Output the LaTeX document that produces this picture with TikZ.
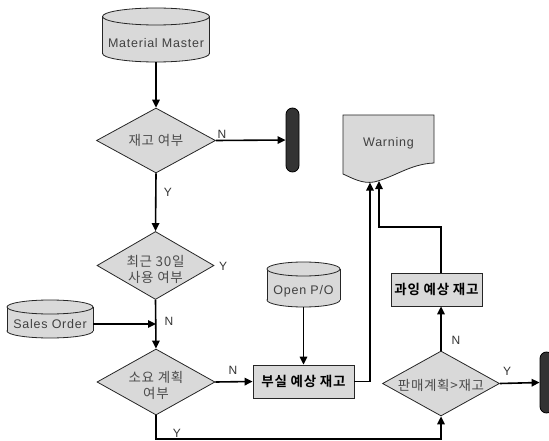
\documentclass[tikz,border=0pt]{standalone}
\usepackage{fontspec}
\setmainfont{Liberation Sans}[LetterSpace=6]
\newfontfamily\kr{Noto Sans CJK KR}[LetterSpace=5,BoldFont={Noto Sans CJK KR Bold}]
\usetikzlibrary{shapes.geometric,arrows.meta}

% database cylinder: #1 centre x, #2 top y, #3 bottom y, #4 half width, #5 end radius
\newcommand\dbcyl[5]{%
  \fill[shapefill] (#1,#3-#5) ellipse[x radius=#4,y radius=#5];
  \draw[shapeline] (#1,#3-#5) ellipse[x radius=#4,y radius=#5];
  \fill[shapefill] (#1-#4,#2+#5) rectangle (#1+#4,#3-#5);
  \draw[shapeline] (#1-#4,#2+#5) -- (#1-#4,#3-#5) (#1+#4,#2+#5) -- (#1+#4,#3-#5);
  \filldraw[shapefill,shapeline] (#1,#2+#5) ellipse[x radius=#4,y radius=#5];}

\begin{document}
\begin{tikzpicture}[x=1pt,y=-1pt,
  shapefill/.style={fill=black!15},
  shapeline/.style={draw=black!85,line width=0.8pt},
  conn/.style={line width=1.6pt,black},
  arr/.style={conn,-{Triangle[length=8pt,width=7.5pt]}},
  dbtext/.style={inner sep=0pt,font=\fontsize{12.5}{14}\selectfont,text=black!75},
  dia/.style={diamond,shapefill,shapeline,inner sep=0pt},
  diatext/.style={align=center,font=\kr\fontsize{13.5}{15.5}\selectfont,text=black!70},
  procbox/.style={rectangle,shapefill,shapeline,inner sep=0pt,
    font=\kr\bfseries\fontsize{13.5}{15}\selectfont},
  endcap/.style={rectangle,rounded corners=6.5pt,fill=black!80,draw=black,
    line width=0.8pt,inner sep=0pt,minimum width=13pt},
  yn/.style={inner sep=0pt,font=\fontsize{12}{14}\selectfont,text=black!80}]
\useasboundingbox (0,0) rectangle (549,441);

% data sources
\dbcyl{156}{8}{62}{53.5}{8.5}
\node[dbtext,minimum width=107pt,minimum height=37pt] (mm) at (156,43.5) {Material Master};
\dbcyl{50}{300}{338}{43}{7}
\node[dbtext,minimum width=86pt,minimum height=28pt] (so) at (50,324) {Sales Order};
\dbcyl{303.5}{262}{307}{36.5}{7}
\node[dbtext,minimum width=73pt,minimum height=31pt] (opo) at (303.5,291.5) {Open P/O};

% decisions
\node[dia,minimum width=119pt,minimum height=65pt] (d1) at (156,140.5) {};
\node[diatext] at (156,140.5) {재고 여부};
\node[dia,minimum width=117pt,minimum height=68pt] (d2) at (155.5,265.5) {};
\node[diatext] at (155.5,269.5) {최근 30일\\사용 여부};
\node[dia,minimum width=118pt,minimum height=66pt] (d3) at (156,382) {};
\node[diatext] at (156,385.5) {소요 계획\\여부};
\node[dia,minimum width=117pt,minimum height=65pt] (d4) at (441,383.5) {};
\node[diatext] at (441,385) {판매계획>재고};

% results
\node[procbox,minimum width=101pt,minimum height=33pt] (b1) at (303.5,381.5) {부실 예상 재고};
\node[procbox,minimum width=91pt,minimum height=33pt] (b2) at (436.5,289.5) {과잉 예상 재고};

% terminators
\node[endcap,minimum height=64pt] (t1) at (292.5,140) {};
\node[endcap,minimum height=61pt] (t2) at (546.5,382.5) {};

% warning document
\filldraw[shapefill,shapeline] (343,115) -- (434,115) -- (434,163)
  .. controls (410,164) and (395,177) .. (374,182)
  .. controls (362,184) and (352,178) .. (343,174) -- cycle;
\node[dbtext,minimum width=91pt,minimum height=48pt] (warn) at (388.5,143) {Warning};
\coordinate (w1) at (370,182.5);
\coordinate (w2) at (379,181);
\coordinate (bend) at (379,227);
\coordinate (low) at (156,439);
\coordinate (join) at (156,324);

% connectors
\draw[arr] (mm.south) -- (d1.north);
\draw[arr] (d1.east) -- (t1.west);
\draw[arr] (d1.south) -- (d2.north);
\draw[arr] (d2.south) -- (d3.north);
\draw[arr] (so.east |- join) -- (join);
\draw[arr] (d3.east) -- (b1.west);
\draw[arr] (opo.south) -- (b1.north);
\draw[arr] (b1.east) -| (w1);
\draw[arr] (d4.north) -- (d4.north |- b2.south);
\draw[arr] (d4.north |- b2.north) |- (bend) -- (w2);
\draw[arr] (d4.east) -- (t2.west);
\draw[arr] (d3.south) -- (low) -| (d4.south);

% branch labels
\node[yn] at (222,134) {N};
\node[yn] at (168,192) {Y};
\node[yn] at (223,266) {Y};
\node[yn] at (169,321) {N};
\node[yn] at (233,370) {N};
\node[yn] at (177,433) {Y};
\node[yn] at (456,340) {N};
\node[yn] at (507,371) {Y};
\end{tikzpicture}
\end{document}
